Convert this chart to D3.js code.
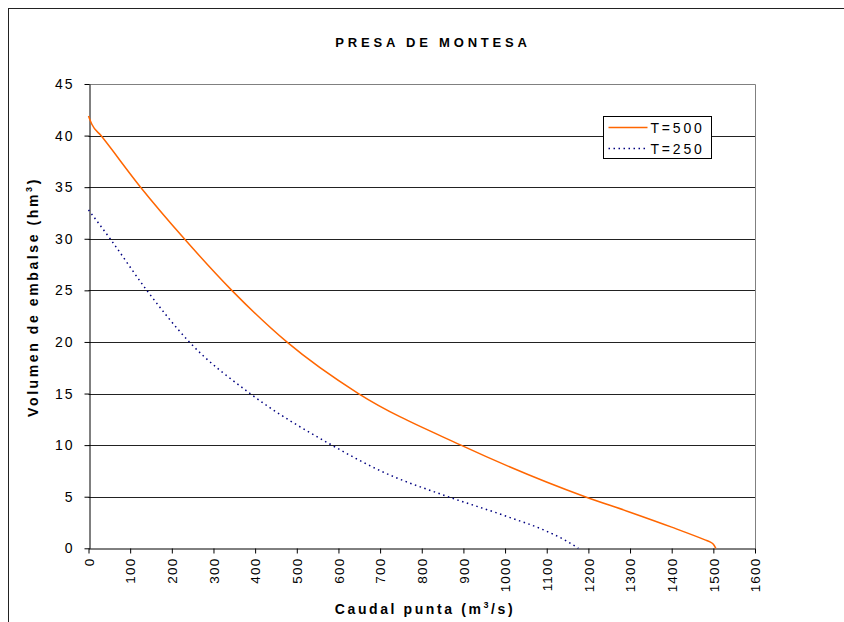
<!DOCTYPE html>
<html>
<head>
<meta charset="utf-8">
<script src="https://cdn.jsdelivr.net/npm/d3@7"></script>
<style>
  body { margin: 0; background: #fff; }
  text { font-family: "Liberation Sans", Arial, sans-serif; fill: #000; }
</style>
</head>
<body>
<div id="chart"></div>
<script>
const width = 844;
const height = 622;

// caudal punta (m3/s) vs volumen de embalse (hm3)
const q500 = [0, 8, 30, 125, 230, 344, 476, 648, 894, 1192, 1300, 1400, 1480, 1492, 1500, 1506];
const v500 = [41.9, 41.1, 40.0, 35.0, 30.0, 25.0, 20.0, 15.0, 10.0, 5.0, 3.5, 2.05, 0.82, 0.62, 0.4, 0.0];

const q250 = [0, 52, 140, 242, 388, 584, 704, 856, 1000, 1100, 1148, 1176];
const v250 = [32.8, 30.0, 25.0, 20.0, 15.0, 10.0, 7.45, 5.1, 3.15, 1.65, 0.7, 0.0];

const xTicks = d3.range(0, 1601, 100);
const yTicks = d3.range(0, 46, 5);

const series = [
  { name: "T=500", q: q500, v: v500, color: "#ff6600", dash: null },
  { name: "T=250", q: q250, v: v250, color: "#000080", dash: "1.5,3.5" }
];

const svg = d3.select('#chart')
  .append('svg')
  .attr('width', width)
  .attr('height', height);

// outer chart border (extends past the picture)
svg.append('rect')
  .attr('x', 8.5).attr('y', 8.5)
  .attr('width', 1000).attr('height', 1000)
  .attr('fill', 'none')
  .attr('stroke', '#222');

const x = d3.scaleLinear().domain([0, 1600]).range([88.5, 755]);
const y = d3.scaleLinear().domain([0, 45]).range([548.3, 84]);

// gridlines
svg.append('g')
  .selectAll('line')
  .data(yTicks.filter(d => d > 0 && d < 45))
  .join('line')
    .attr('x1', x(0)).attr('x2', x(1600))
    .attr('y1', d => Math.round(y(d)) + 0.5).attr('y2', d => Math.round(y(d)) + 0.5)
    .attr('stroke', '#222');

// plot frame top / right
svg.append('path')
  .attr('d', `M${x(0)},${Math.round(y(45)) + 0.5}H${Math.round(x(1600)) + 0.5}V${y(0)}`)
  .attr('fill', 'none')
  .attr('stroke', '#808080');

function yAxis(g) {
  g.attr('transform', `translate(${Math.round(x(0)) + 0.5},0)`)
    .call(d3.axisLeft(y).tickValues(yTicks).tickSize(5).tickPadding(10).tickSizeOuter(0))
    .call(g => g.select('.domain').attr('stroke', '#000'))
    .call(g => g.selectAll('.tick line').attr('stroke', '#000'))
    .call(g => g.selectAll('.tick text')
      .attr('font-size', '14px')
      .attr('letter-spacing', '2px')
      .attr('font-family', '"Liberation Sans", Arial, sans-serif'));
}

function xAxis(g) {
  g.attr('transform', `translate(0,${Math.round(y(0)) + 0.5})`)
    .call(d3.axisBottom(x).tickValues(xTicks).tickFormat(d3.format('d')).tickSize(5).tickSizeOuter(0))
    .call(g => g.select('.domain').attr('stroke', '#000'))
    .call(g => g.selectAll('.tick line').attr('stroke', '#000'))
    .call(g => g.selectAll('.tick text')
      .attr('font-size', '13.5px')
      .attr('letter-spacing', '1.2px')
      .attr('font-family', '"Liberation Sans", Arial, sans-serif')
      .attr('text-anchor', 'end')
      .attr('dy', '0.35em')
      .attr('transform', 'translate(0,9) rotate(-90)')
      .attr('x', 0).attr('y', 0));
}

svg.append('g').call(yAxis);
svg.append('g').call(xAxis);

const line = d3.line()
  .x(d => x(d[0]))
  .y(d => y(d[1]))
  .curve(d3.curveMonotoneX);

svg.append('g')
  .selectAll('path')
  .data(series)
  .join('path')
    .attr('d', s => line(s.q.map((q, i) => [q, s.v[i]])))
    .attr('fill', 'none')
    .attr('stroke', s => s.color)
    .attr('stroke-width', 1.5)
    .attr('stroke-dasharray', s => s.dash);

// title
svg.append('text')
  .attr('x', 433).attr('y', 47)
  .attr('text-anchor', 'middle')
  .attr('font-size', '13px')
  .attr('font-weight', 'bold')
  .attr('letter-spacing', '3.8px')
  .text('PRESA DE MONTESA');

// axis titles
const xt = svg.append('text')
  .attr('x', 425).attr('y', 614)
  .attr('text-anchor', 'middle')
  .attr('font-size', '14px')
  .attr('font-weight', 'bold')
  .attr('letter-spacing', '2.6px');
xt.append('tspan').text('Caudal punta (m');
xt.append('tspan').attr('dy', '-6').attr('font-size', '9px').text('3');
xt.append('tspan').attr('dy', '6').text('/s)');

const yt = svg.append('text')
  .attr('transform', 'translate(38,297) rotate(-90)')
  .attr('text-anchor', 'middle')
  .attr('font-size', '14px')
  .attr('font-weight', 'bold')
  .attr('letter-spacing', '2.6px');
yt.append('tspan').text('Volumen de embalse (hm');
yt.append('tspan').attr('dy', '-6').attr('font-size', '9px').text('3');
yt.append('tspan').attr('dy', '6').text(')');

// legend
const legend = svg.append('g').attr('transform', 'translate(603.5,116.5)');
legend.append('rect')
  .attr('width', 108).attr('height', 42)
  .attr('fill', '#fff')
  .attr('stroke', '#000');
const item = legend.selectAll('g.item')
  .data(series)
  .join('g')
    .attr('class', 'item')
    .attr('transform', (d, i) => `translate(0,${11 + i * 21})`);
item.append('line')
  .attr('x1', 5).attr('x2', 44)
  .attr('stroke', d => d.color)
  .attr('stroke-width', 1.5)
  .attr('stroke-dasharray', d => d.dash);
item.append('text')
  .attr('x', 47).attr('dy', '0.36em')
  .attr('font-size', '14px')
  .attr('letter-spacing', '2.8px')
  .text(d => d.name);
</script>
</body>
</html>
